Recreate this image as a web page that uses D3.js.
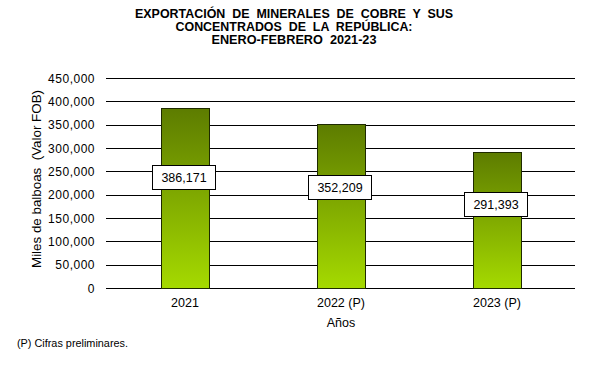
<!DOCTYPE html>
<html>
<head>
<meta charset="utf-8">
<script src="https://cdn.jsdelivr.net/npm/d3@7"></script>
<style>
  body { margin: 0; background: #fff; }
  svg { display: block; font-family: "Liberation Sans", Arial, sans-serif; }
  svg text { white-space: pre; }
</style>
</head>
<body>
<div id="chart"></div>
<script>
'use strict'
// data
var years = ["2021", "2022 (P)", "2023 (P)"];
var values = [386171, 352209, 291393];
var yTicks = [0, 50000, 100000, 150000, 200000, 250000, 300000, 350000, 400000, 450000];
var titleLines = [
    "EXPORTACIÓN  DE  MINERALES  DE  COBRE  Y  SUS",
    "CONCENTRADOS  DE  LA  REPÚBLICA:",
    "ENERO-FEBRERO  2021-23"
];
var titleWidths = [318, 237, 165];

var chartW = 614, chartH = 386,
    plotLeft = 107, plotRight = 575, plotTop = 78, plotBottom = 288;

var svg = d3.select("#chart").append("svg")
    .attr("width", chartW).attr("height", chartH);

// gradient for the bars
var grad = svg.append("defs").append("linearGradient")
    .attr("id", "barGrad").attr("x1", 0).attr("y1", 0).attr("x2", 0).attr("y2", 1);
grad.append("stop").attr("offset", "0%").attr("stop-color", "#5d7c00");
grad.append("stop").attr("offset", "100%").attr("stop-color", "#a5da00");

var x = d3.scaleBand().domain(years).range([plotLeft, plotRight])
    .paddingInner(0.69).paddingOuter(0.345);
var y = d3.scaleLinear().domain([0, 450000]).range([plotBottom, plotTop]);

// title
svg.append("g").selectAll("text")
    .data(titleLines).enter().append("text")
    .attr("x", 294).attr("y", function(d, i){ return 18 + i * 13; })
    .attr("text-anchor", "middle")
    .attr("font-size", "12.5px").attr("font-weight", "bold")
    .attr("textLength", function(d, i){ return titleWidths[i]; })
    .attr("lengthAdjust", "spacingAndGlyphs")
    .attr("fill", "#000")
    .text(function(d){ return d; });

// gridlines
svg.append("g").selectAll("line")
    .data(yTicks).enter().append("line")
    .attr("x1", plotLeft - 1).attr("x2", plotRight)
    .attr("y1", function(d){ return Math.round(y(d)) + 0.5; })
    .attr("y2", function(d){ return Math.round(y(d)) + 0.5; })
    .attr("stroke", "#000").attr("stroke-width", 1);

// y axis labels
var fmt = d3.format(",");
svg.append("g").selectAll("text")
    .data(yTicks).enter().append("text")
    .attr("x", 95).attr("y", function(d){ return y(d) + 4.5; })
    .attr("text-anchor", "end")
    .attr("font-size", "12px").attr("letter-spacing", "0.5px")
    .text(function(d){ return fmt(d); });

// bars
svg.append("g").selectAll("rect")
    .data(values).enter().append("rect")
    .attr("x", function(d, i){ return Math.round(x(years[i])) + 0.5; })
    .attr("y", function(d){ return Math.round(y(d)) + 0.5; })
    .attr("width", Math.round(x.bandwidth()))
    .attr("height", function(d){ return Math.round(y(0)) - Math.round(y(d)); })
    .attr("fill", "url(#barGrad)")
    .attr("stroke", "#1e2a00").attr("stroke-width", 1);

// value labels
var lab = svg.append("g").selectAll("g")
    .data(values).enter().append("g")
    .attr("transform", function(d, i){
        var cx = x(years[i]) + x.bandwidth() / 2 - 1;
        return "translate(" + cx + "," + Math.round(y(d * 0.615)) + ")";
    });
lab.append("rect")
    .attr("x", -31.5).attr("y", -11.5).attr("width", 63).attr("height", 24)
    .attr("fill", "#fff").attr("stroke", "#000").attr("stroke-width", 1);
lab.append("text")
    .attr("text-anchor", "middle").attr("y", 5)
    .attr("font-size", "12.5px")
    .text(function(d){ return fmt(d); });

// x axis labels
svg.append("g").selectAll("text")
    .data(years).enter().append("text")
    .attr("x", function(d){ return x(d) + x.bandwidth() / 2; })
    .attr("y", 307)
    .attr("text-anchor", "middle")
    .attr("font-size", "12.5px")
    .text(function(d){ return d; });

// axis titles
svg.append("text")
    .attr("x", 341).attr("y", 327)
    .attr("text-anchor", "middle").attr("font-size", "12.5px")
    .text("Años");

svg.append("text")
    .attr("transform", "translate(41,179) rotate(-90)")
    .attr("text-anchor", "middle").attr("font-size", "12.5px")
    .attr("textLength", 178).attr("lengthAdjust", "spacingAndGlyphs")
    .text("Miles de balboas  (Valor FOB)");

// footnote
svg.append("text")
    .attr("x", 17).attr("y", 347)
    .attr("font-size", "10px")
    .attr("textLength", 111).attr("lengthAdjust", "spacingAndGlyphs")
    .text("(P) Cifras preliminares.");
</script>
</body>
</html>
